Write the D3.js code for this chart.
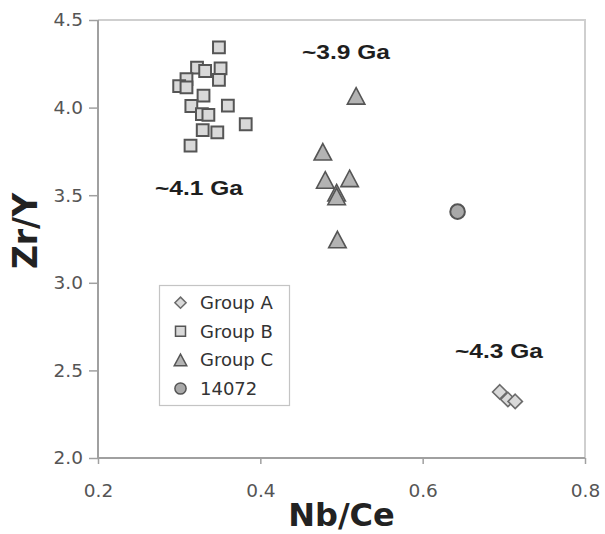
<!DOCTYPE html>
<html>
<head>
<meta charset="utf-8">
<script src="https://cdn.jsdelivr.net/npm/d3@7"></script>
<style>
  html, body { margin: 0; padding: 0; background: #fff; }
  svg { display: block; }
</style>
</head>
<body>
<div id="chart"></div>
<script>
// Nb/Ce versus Zr/Y for three zircon groups and sample 14072
const groupA_nbce = [0.695, 0.705, 0.714];
const groupA_zry  = [2.377, 2.334, 2.323];

const groupB_nbce = [0.349, 0.322, 0.332, 0.351, 0.309, 0.349, 0.300, 0.309, 0.330,
                     0.315, 0.360, 0.328, 0.336, 0.382, 0.329, 0.347, 0.314];
const groupB_zry  = [4.344, 4.228, 4.209, 4.224, 4.162, 4.158, 4.123, 4.116, 4.068,
                     4.009, 4.011, 3.963, 3.958, 3.905, 3.872, 3.859, 3.783];

const groupC_nbce = [0.518, 0.477, 0.480, 0.510, 0.494, 0.494, 0.495];
const groupC_zry  = [4.067, 3.748, 3.587, 3.596, 3.514, 3.493, 3.247];

const s14072_nbce = [0.643];
const s14072_zry  = [3.406];

const xTicks = [0.2, 0.4, 0.6, 0.8];
const yTicks = [2.0, 2.5, 3.0, 3.5, 4.0, 4.5];

const legendLabels = ["Group A", "Group B", "Group C", "14072"];

// Age annotations: text, Nb/Ce of left edge, Zr/Y of baseline
const ageLabels = ["~3.9 Ga", "~4.1 Ga", "~4.3 Ga"];
const ageNbCe   = [0.4513, 0.2702, 0.6398];
const ageZrY    = [4.2755, 3.4989, 2.5708];

const W = 605, H = 534;
const plot = { left: 98, right: 585, top: 20, bottom: 458 };

const x = d3.scaleLinear().domain([0.2, 0.8]).range([plot.left, plot.right]);
const y = d3.scaleLinear().domain([2.0, 4.5]).range([plot.bottom, plot.top]);

const svg = d3.select("#chart").append("svg")
  .attr("width", W).attr("height", H);

// Marker outlines, centred on their bounding boxes
function diamondPath(r) { return `M0,${-r}L${r},0L0,${r}L${-r},0Z`; }
function squarePath(s) { const h = s / 2; return `M${-h},${-h}H${h}V${h}H${-h}Z`; }
function trianglePath(w, h) { return `M0,${-h / 2}L${w / 2},${h / 2}L${-w / 2},${h / 2}Z`; }
function circlePath(r) { return `M${r},0A${r},${r} 0 1,1 ${-r},0A${r},${r} 0 1,1 ${r},0Z`; }

const styles = {
  A: { fill: "#d9d9d9", stroke: "#6b6b6b", sw: 1.6 },
  B: { fill: "#d9d9d9", stroke: "#555555", sw: 2 },
  C: { fill: "#b3b3b3", stroke: "#555555", sw: 1.6 },
  D: { fill: "#a9a9a9", stroke: "#555555", sw: 2 }
};

// Plot frame (top and right edges)
svg.append("path")
  .attr("d", `M${plot.left},${plot.top}H${plot.right}V${plot.bottom}`)
  .attr("fill", "none").attr("stroke", "#cfcfcf").attr("stroke-width", 2);

// Axes
const fmt = d3.format(".1f");
const xAxis = svg.append("g")
  .attr("transform", `translate(0,${plot.bottom})`)
  .call(d3.axisBottom(x).tickValues(xTicks).tickFormat(fmt).tickSize(6).tickPadding(20));
const yAxis = svg.append("g")
  .attr("transform", `translate(${plot.left},0)`)
  .call(d3.axisLeft(y).tickValues(yTicks).tickFormat(fmt).tickSize(9).tickPadding(6));

[xAxis, yAxis].forEach(g => {
  g.select(".domain").attr("stroke", "#a0a0a0").attr("stroke-width", 2);
  g.selectAll(".tick line").attr("stroke", "#a0a0a0").attr("stroke-width", 1.5);
  g.selectAll(".tick text")
    .attr("fill", "#555")
    .style("font-family", "'DejaVu Sans', Verdana, sans-serif")
    .style("font-size", "18.5px");
});
yAxis.select(".domain").attr("d", `M0,${plot.top}V${plot.bottom}`);
xAxis.select(".domain").attr("d", `M${plot.left},0H${plot.right}`);

// Axis titles
svg.append("text")
  .attr("x", (plot.left + plot.right) / 2).attr("y", 526)
  .attr("text-anchor", "middle")
  .style("font-family", "'DejaVu Sans', Verdana, sans-serif")
  .style("font-weight", "bold").style("font-size", "32px")
  .attr("fill", "#222").text("Nb/Ce");

svg.append("text")
  .attr("transform", `translate(37,${(plot.top + plot.bottom) / 2 - 8}) rotate(-90)`)
  .attr("text-anchor", "middle")
  .style("font-family", "'DejaVu Sans', Verdana, sans-serif")
  .style("font-weight", "bold").style("font-size", "33px")
  .attr("fill", "#222").text("Zr/Y");

// Data points
function zip(xs, ys) { return xs.map((v, i) => ({ x: v, y: ys[i] })); }

const marks = svg.append("g");
marks.selectAll(".ptB").data(zip(groupB_nbce, groupB_zry)).join("path")
  .attr("class", "ptB")
  .attr("transform", d => `translate(${x(d.x)},${y(d.y)})`)
  .attr("d", squarePath(11.8))
  .attr("fill", styles.B.fill).attr("stroke", styles.B.stroke).attr("stroke-width", styles.B.sw);

marks.selectAll(".ptC").data(zip(groupC_nbce, groupC_zry)).join("path")
  .attr("class", "ptC")
  .attr("transform", d => `translate(${x(d.x)},${y(d.y)})`)
  .attr("d", trianglePath(17.5, 16.5))
  .attr("fill", styles.C.fill).attr("stroke", styles.C.stroke).attr("stroke-width", styles.C.sw)
  .attr("stroke-linejoin", "miter");

marks.selectAll(".ptD").data(zip(s14072_nbce, s14072_zry)).join("path")
  .attr("class", "ptD")
  .attr("transform", d => `translate(${x(d.x)},${y(d.y)})`)
  .attr("d", circlePath(7.3))
  .attr("fill", styles.D.fill).attr("stroke", styles.D.stroke).attr("stroke-width", styles.D.sw);

marks.selectAll(".ptA").data(zip(groupA_nbce, groupA_zry)).join("path")
  .attr("class", "ptA")
  .attr("transform", d => `translate(${x(d.x)},${y(d.y)})`)
  .attr("d", diamondPath(7.2))
  .attr("fill", styles.A.fill).attr("stroke", styles.A.stroke).attr("stroke-width", styles.A.sw);

// Age annotations
svg.selectAll(".age").data(ageLabels).join("text")
  .attr("class", "age")
  .attr("x", (d, i) => x(ageNbCe[i]))
  .attr("y", (d, i) => y(ageZrY[i]))
  .attr("textLength", 88).attr("lengthAdjust", "spacingAndGlyphs")
  .style("font-family", "'Liberation Sans', Arial, sans-serif")
  .style("font-weight", "bold").style("font-size", "19.5px")
  .attr("fill", "#1e1e1e")
  .text(d => d);

// Legend
const legend = svg.append("g").attr("transform", "translate(159,285)");
legend.append("rect")
  .attr("x", 0.5).attr("y", 0.5).attr("width", 130).attr("height", 120)
  .attr("fill", "#fff").attr("stroke", "#c4c4c4").attr("stroke-width", 1.2);

const legendMarks = [
  { d: diamondPath(5.6), s: styles.A },
  { d: squarePath(10), s: styles.B },
  { d: trianglePath(12.5, 11.5), s: styles.C },
  { d: circlePath(5.6), s: styles.D }
];
const rowY = i => 17.7 + i * 28.6;

legend.selectAll(".lm").data(legendMarks).join("path")
  .attr("class", "lm")
  .attr("transform", (d, i) => `translate(21.5,${rowY(i)})`)
  .attr("d", d => d.d)
  .attr("fill", d => d.s.fill).attr("stroke", d => d.s.stroke)
  .attr("stroke-width", 1.5);

legend.selectAll(".lt").data(legendLabels).join("text")
  .attr("class", "lt")
  .attr("x", 41).attr("y", (d, i) => rowY(i) + 6.5)
  .style("font-family", "'DejaVu Sans', Verdana, sans-serif")
  .style("font-size", "18px")
  .attr("fill", "#333")
  .text(d => d);
</script>
</body>
</html>
